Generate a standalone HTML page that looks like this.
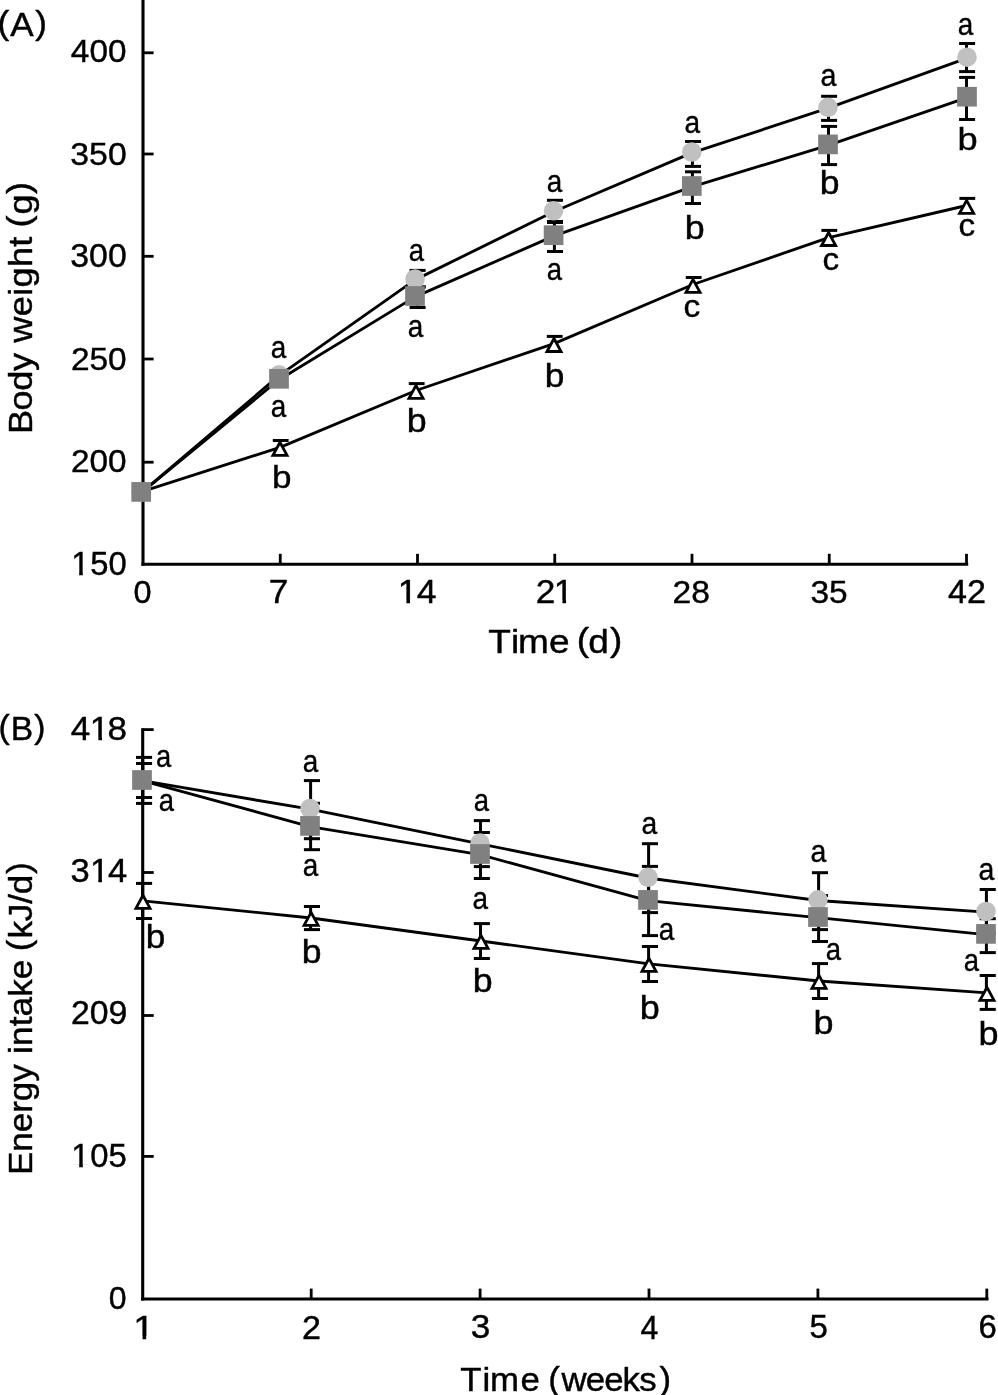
<!DOCTYPE html>
<html><head><meta charset="utf-8"><title>Figure</title>
<style>
html,body{margin:0;padding:0;background:#fff}
svg{display:block}
text{font-family:"Liberation Sans",Arial,Helvetica,sans-serif;fill:#000;stroke:#000;stroke-width:0.4px}
</style></head><body>
<svg width="998" height="1395" viewBox="0 0 998 1395">
<defs><clipPath id="nofoot"><polygon points="0,-30 11.2,-30 11.2,1 7.8,1 7.8,-2.8 0,-2.8"/></clipPath></defs>
<rect width="998" height="1395" fill="#fff"/>
<line x1="143.00" y1="0.00" x2="143.00" y2="565.75" stroke="#000" stroke-width="3.1" stroke-linecap="butt"/>
<line x1="141.45" y1="564.20" x2="968.20" y2="564.20" stroke="#000" stroke-width="3.1" stroke-linecap="butt"/>
<line x1="143.00" y1="52.80" x2="153.60" y2="52.80" stroke="#000" stroke-width="2.8" stroke-linecap="butt"/>
<text transform="matrix(1.0420 0 0 0.9894 70.85 62.48)" font-size="32" stroke-width="0.37">400</text>
<line x1="143.00" y1="154.00" x2="153.60" y2="154.00" stroke="#000" stroke-width="2.8" stroke-linecap="butt"/>
<text transform="matrix(1.0557 0 0 1.0027 70.33 164.58)" font-size="32" stroke-width="0.33">350</text>
<line x1="143.00" y1="256.30" x2="153.60" y2="256.30" stroke="#000" stroke-width="2.8" stroke-linecap="butt"/>
<text transform="matrix(1.0557 0 0 1.0115 70.33 267.28)" font-size="32" stroke-width="0.33">300</text>
<line x1="143.00" y1="359.00" x2="153.60" y2="359.00" stroke="#000" stroke-width="2.8" stroke-linecap="butt"/>
<text transform="matrix(1.0443 0 0 1.0027 70.93 369.78)" font-size="32" stroke-width="0.36">250</text>
<line x1="143.00" y1="462.20" x2="153.60" y2="462.20" stroke="#000" stroke-width="2.8" stroke-linecap="butt"/>
<text transform="matrix(1.0423 0 0 1.0027 70.93 471.78)" font-size="32" stroke-width="0.37">200</text>
<text transform="matrix(1.0238 0 0 1.0300 0 0)" x="69.65 88.26 106.04" y="558.06 558.06 558.06" font-size="32" stroke-width="0.42">150</text>
<rect x="72.95" y="572.00" width="6.22" height="5.00" fill="#fff"/>
<rect x="82.81" y="572.00" width="6.55" height="5.00" fill="#fff"/>
<line x1="280.25" y1="564.20" x2="280.25" y2="553.80" stroke="#000" stroke-width="2.8" stroke-linecap="butt"/>
<line x1="417.50" y1="564.20" x2="417.50" y2="553.80" stroke="#000" stroke-width="2.8" stroke-linecap="butt"/>
<line x1="554.75" y1="564.20" x2="554.75" y2="553.80" stroke="#000" stroke-width="2.8" stroke-linecap="butt"/>
<line x1="692.00" y1="564.20" x2="692.00" y2="553.80" stroke="#000" stroke-width="2.8" stroke-linecap="butt"/>
<line x1="829.25" y1="564.20" x2="829.25" y2="553.80" stroke="#000" stroke-width="2.8" stroke-linecap="butt"/>
<line x1="966.50" y1="564.20" x2="966.50" y2="553.80" stroke="#000" stroke-width="2.8" stroke-linecap="butt"/>
<text transform="matrix(1.0144 0 0 1.0027 133.60 602.58)" font-size="32" stroke-width="0.45">0</text>
<text transform="matrix(1.0981 0 0 1.0318 268.76 602.90)" font-size="32" stroke-width="0.21">7</text>
<text transform="matrix(1.1140 0 0 1.0350 0 0)" x="356.99 374.06" y="582.42 582.42" font-size="32" stroke-width="0.16">14</text>
<rect x="399.46" y="599.98" width="6.92" height="5.02" fill="#fff"/>
<rect x="410.04" y="599.98" width="7.13" height="5.02" fill="#fff"/>
<text transform="matrix(1.0998 0 0 1.0350 0 0)" x="487.08 503.62" y="582.42 582.42" font-size="32" stroke-width="0.20">21</text>
<rect x="555.64" y="599.98" width="6.81" height="5.02" fill="#fff"/>
<rect x="566.10" y="599.98" width="7.04" height="5.02" fill="#fff"/>
<text transform="matrix(1.0504 0 0 1.0027 672.52 602.58)" font-size="32" stroke-width="0.34">28</text>
<text transform="matrix(1.0472 0 0 1.0027 810.44 602.58)" font-size="32" stroke-width="0.35">35</text>
<text transform="matrix(1.0663 0 0 1.0170 948.03 602.90)" font-size="32" stroke-width="0.29">42</text>
<text transform="matrix(1.1564 0 0 1.0500 0 0)" x="422.29 441.92 447.93 474.71 492.51 498.78 508.75 527.40" y="621.52 621.52 621.52 621.52 621.52 620.29 621.62 620.29" font-size="32" stroke-width="0.05">Time (d)</text>
<text transform="rotate(-90) scale(1.1301,1.0400)" x="-384.10 -363.16 -345.73 -328.30 -312.30 -303.22 -279.76 -261.76 -254.44 -236.34 -218.32 -209.42 -201.31 -189.86 -171.72" y="30.67 30.67 30.67 30.67 30.67 30.67 30.67 30.67 30.67 30.67 30.67 30.67 29.23 30.67 29.23" font-size="32" stroke-width="0.12">Body weight (g)</text>
<text transform="matrix(1.0991 0 0 1.0600 0 0)" x="-2.24 9.38 32.18" y="32.36 33.58 32.36" font-size="32" stroke-width="0.20">(A)</text>
<polyline points="141.20,492.90 279.00,375.70 415.00,279.90 553.60,211.70 691.80,152.90 828.00,108.20 967.00,58.10" fill="none" stroke="#000" stroke-width="2.85" stroke-linejoin="round"/>
<polyline points="141.20,492.80 279.00,379.70 415.00,296.90 553.60,236.10 691.80,186.90 828.00,145.30 967.00,97.60" fill="none" stroke="#000" stroke-width="2.85" stroke-linejoin="round"/>
<polyline points="141.20,491.90 280.00,447.40 416.00,390.50 554.00,343.60 693.00,284.50 828.60,237.60 966.60,205.50" fill="none" stroke="#000" stroke-width="2.85" stroke-linejoin="round"/>
<line x1="417.00" y1="270.40" x2="417.00" y2="287.00" stroke="#000" stroke-width="3.0" stroke-linecap="butt"/>
<line x1="409.60" y1="270.40" x2="425.60" y2="270.40" stroke="#000" stroke-width="3.0" stroke-linecap="butt"/>
<line x1="409.60" y1="287.00" x2="425.60" y2="287.00" stroke="#000" stroke-width="3.0" stroke-linecap="butt"/>
<line x1="554.40" y1="200.30" x2="554.40" y2="221.50" stroke="#000" stroke-width="3.0" stroke-linecap="butt"/>
<line x1="547.00" y1="200.30" x2="563.00" y2="200.30" stroke="#000" stroke-width="3.0" stroke-linecap="butt"/>
<line x1="547.00" y1="221.50" x2="563.00" y2="221.50" stroke="#000" stroke-width="3.0" stroke-linecap="butt"/>
<line x1="692.40" y1="141.50" x2="692.40" y2="166.40" stroke="#000" stroke-width="3.0" stroke-linecap="butt"/>
<line x1="685.00" y1="141.50" x2="701.00" y2="141.50" stroke="#000" stroke-width="3.0" stroke-linecap="butt"/>
<line x1="685.00" y1="166.40" x2="701.00" y2="166.40" stroke="#000" stroke-width="3.0" stroke-linecap="butt"/>
<line x1="828.50" y1="96.30" x2="828.50" y2="120.40" stroke="#000" stroke-width="3.0" stroke-linecap="butt"/>
<line x1="821.10" y1="96.30" x2="837.10" y2="96.30" stroke="#000" stroke-width="3.0" stroke-linecap="butt"/>
<line x1="821.10" y1="120.40" x2="837.10" y2="120.40" stroke="#000" stroke-width="3.0" stroke-linecap="butt"/>
<line x1="966.50" y1="43.50" x2="966.50" y2="71.60" stroke="#000" stroke-width="3.0" stroke-linecap="butt"/>
<line x1="959.10" y1="43.50" x2="975.10" y2="43.50" stroke="#000" stroke-width="3.0" stroke-linecap="butt"/>
<line x1="959.10" y1="71.60" x2="975.10" y2="71.60" stroke="#000" stroke-width="3.0" stroke-linecap="butt"/>
<line x1="417.00" y1="287.00" x2="417.00" y2="307.50" stroke="#000" stroke-width="3.0" stroke-linecap="butt"/>
<line x1="409.60" y1="287.00" x2="425.60" y2="287.00" stroke="#000" stroke-width="3.0" stroke-linecap="butt"/>
<line x1="409.60" y1="307.50" x2="425.60" y2="307.50" stroke="#000" stroke-width="3.0" stroke-linecap="butt"/>
<line x1="554.40" y1="222.50" x2="554.40" y2="251.50" stroke="#000" stroke-width="3.0" stroke-linecap="butt"/>
<line x1="547.00" y1="222.50" x2="563.00" y2="222.50" stroke="#000" stroke-width="3.0" stroke-linecap="butt"/>
<line x1="547.00" y1="251.50" x2="563.00" y2="251.50" stroke="#000" stroke-width="3.0" stroke-linecap="butt"/>
<line x1="692.40" y1="171.80" x2="692.40" y2="203.50" stroke="#000" stroke-width="3.0" stroke-linecap="butt"/>
<line x1="685.00" y1="171.80" x2="701.00" y2="171.80" stroke="#000" stroke-width="3.0" stroke-linecap="butt"/>
<line x1="685.00" y1="203.50" x2="701.00" y2="203.50" stroke="#000" stroke-width="3.0" stroke-linecap="butt"/>
<line x1="828.50" y1="126.40" x2="828.50" y2="164.60" stroke="#000" stroke-width="3.0" stroke-linecap="butt"/>
<line x1="821.10" y1="126.40" x2="837.10" y2="126.40" stroke="#000" stroke-width="3.0" stroke-linecap="butt"/>
<line x1="821.10" y1="164.60" x2="837.10" y2="164.60" stroke="#000" stroke-width="3.0" stroke-linecap="butt"/>
<line x1="966.50" y1="77.40" x2="966.50" y2="119.50" stroke="#000" stroke-width="3.0" stroke-linecap="butt"/>
<line x1="959.10" y1="77.40" x2="975.10" y2="77.40" stroke="#000" stroke-width="3.0" stroke-linecap="butt"/>
<line x1="959.10" y1="119.50" x2="975.10" y2="119.50" stroke="#000" stroke-width="3.0" stroke-linecap="butt"/>
<line x1="272.80" y1="440.50" x2="288.60" y2="440.50" stroke="#000" stroke-width="3.0" stroke-linecap="butt"/>
<line x1="408.80" y1="383.60" x2="424.60" y2="383.60" stroke="#000" stroke-width="3.0" stroke-linecap="butt"/>
<line x1="546.80" y1="336.40" x2="562.60" y2="336.40" stroke="#000" stroke-width="3.0" stroke-linecap="butt"/>
<line x1="685.80" y1="277.50" x2="701.60" y2="277.50" stroke="#000" stroke-width="3.0" stroke-linecap="butt"/>
<line x1="821.40" y1="230.40" x2="837.20" y2="230.40" stroke="#000" stroke-width="3.0" stroke-linecap="butt"/>
<line x1="959.40" y1="198.40" x2="975.20" y2="198.40" stroke="#000" stroke-width="3.0" stroke-linecap="butt"/>
<circle cx="141.20" cy="492.00" r="9.75" fill="#c0c0c0"/>
<circle cx="279.00" cy="374.80" r="9.75" fill="#c0c0c0"/>
<circle cx="415.00" cy="279.00" r="9.75" fill="#c0c0c0"/>
<circle cx="553.60" cy="210.80" r="9.75" fill="#c0c0c0"/>
<circle cx="691.80" cy="152.00" r="9.75" fill="#c0c0c0"/>
<circle cx="828.00" cy="107.30" r="9.75" fill="#c0c0c0"/>
<circle cx="967.00" cy="57.20" r="9.75" fill="#c0c0c0"/>
<rect x="131.35" y="482.05" width="19.7" height="19.7" fill="#808080"/>
<rect x="269.15" y="368.95" width="19.7" height="19.7" fill="#808080"/>
<rect x="405.15" y="286.15" width="19.7" height="19.7" fill="#808080"/>
<rect x="543.75" y="225.35" width="19.7" height="19.7" fill="#808080"/>
<rect x="681.95" y="176.15" width="19.7" height="19.7" fill="#808080"/>
<rect x="818.15" y="134.55" width="19.7" height="19.7" fill="#808080"/>
<rect x="957.15" y="86.85" width="19.7" height="19.7" fill="#808080"/>
<polygon points="280.00,442.30 287.05,455.30 272.95,455.30" fill="#fff" stroke="#000" stroke-width="2.8" stroke-linejoin="miter"/>
<polygon points="416.00,385.40 423.05,398.40 408.95,398.40" fill="#fff" stroke="#000" stroke-width="2.8" stroke-linejoin="miter"/>
<polygon points="554.00,338.50 561.05,351.50 546.95,351.50" fill="#fff" stroke="#000" stroke-width="2.8" stroke-linejoin="miter"/>
<polygon points="693.00,279.40 700.05,292.40 685.95,292.40" fill="#fff" stroke="#000" stroke-width="2.8" stroke-linejoin="miter"/>
<polygon points="828.60,232.50 835.65,245.50 821.55,245.50" fill="#fff" stroke="#000" stroke-width="2.8" stroke-linejoin="miter"/>
<polygon points="966.60,200.40 973.65,213.40 959.55,213.40" fill="#fff" stroke="#000" stroke-width="2.8" stroke-linejoin="miter"/>
<text transform="matrix(0.8720 0 0 0.9703 270.71 358.29)" font-size="32" stroke-width="0.90">a</text>
<text transform="matrix(0.8720 0 0 0.9646 270.71 416.59)" font-size="32" stroke-width="0.90">a</text>
<text transform="matrix(1.0972 0 0 0.9991 271.92 487.58)" font-size="32" stroke-width="0.21">b</text>
<text transform="matrix(0.8598 0 0 0.9646 408.83 260.59)" font-size="32" stroke-width="0.90">a</text>
<text transform="matrix(0.8720 0 0 0.9817 407.71 336.79)" font-size="32" stroke-width="0.90">a</text>
<text transform="matrix(1.1181 0 0 1.0119 406.77 431.68)" font-size="32" stroke-width="0.15">b</text>
<text transform="matrix(0.8720 0 0 0.9760 546.81 191.69)" font-size="32" stroke-width="0.90">a</text>
<text transform="matrix(0.8598 0 0 0.9646 546.83 279.59)" font-size="32" stroke-width="0.90">a</text>
<text transform="matrix(1.1042 0 0 1.0247 544.70 386.67)" font-size="32" stroke-width="0.19">b</text>
<text transform="matrix(0.8780 0 0 0.9703 684.61 132.79)" font-size="32" stroke-width="0.90">a</text>
<text transform="matrix(1.1181 0 0 1.0247 684.67 238.67)" font-size="32" stroke-width="0.15">b</text>
<text transform="matrix(1.0465 0 0 0.9703 683.48 316.79)" font-size="32" stroke-width="0.35">c</text>
<text transform="matrix(0.8963 0 0 0.9646 820.58 86.49)" font-size="32" stroke-width="0.88">a</text>
<text transform="matrix(1.1111 0 0 1.0162 819.79 193.57)" font-size="32" stroke-width="0.17">b</text>
<text transform="matrix(1.0392 0 0 0.9760 822.39 269.89)" font-size="32" stroke-width="0.38">c</text>
<text transform="matrix(0.8720 0 0 0.9532 957.71 35.29)" font-size="32" stroke-width="0.90">a</text>
<text transform="matrix(1.1319 0 0 0.9949 957.45 150.08)" font-size="32" stroke-width="0.12">b</text>
<text transform="matrix(1.0392 0 0 0.9817 958.39 235.79)" font-size="32" stroke-width="0.38">c</text>
<line x1="142.70" y1="728.20" x2="142.70" y2="1300.55" stroke="#000" stroke-width="3.1" stroke-linecap="butt"/>
<line x1="141.15" y1="1299.00" x2="988.50" y2="1299.00" stroke="#000" stroke-width="3.1" stroke-linecap="butt"/>
<line x1="142.70" y1="729.60" x2="153.70" y2="729.60" stroke="#000" stroke-width="2.8" stroke-linecap="butt"/>
<text transform="matrix(1.0946 0 0 1.0300 0 0)" x="64.69 82.05 98.14" y="718.25 718.25 718.25" font-size="32" stroke-width="0.21">418</text>
<rect x="91.57" y="737.00" width="6.77" height="5.00" fill="#fff"/>
<rect x="101.99" y="737.00" width="7.01" height="5.00" fill="#fff"/>
<line x1="142.70" y1="872.50" x2="153.70" y2="872.50" stroke="#000" stroke-width="2.8" stroke-linecap="butt"/>
<text transform="matrix(1.0800 0 0 1.0300 0 0)" x="65.18 83.26 100.00" y="856.12 856.12 856.12" font-size="32" stroke-width="0.26">314</text>
<rect x="91.64" y="879.00" width="6.66" height="5.00" fill="#fff"/>
<rect x="101.95" y="879.00" width="6.91" height="5.00" fill="#fff"/>
<line x1="142.70" y1="1015.50" x2="153.70" y2="1015.50" stroke="#000" stroke-width="2.8" stroke-linecap="butt"/>
<text transform="matrix(1.0552 0 0 1.0115 70.91 1023.78)" font-size="32" stroke-width="0.33">209</text>
<line x1="142.70" y1="1156.40" x2="153.70" y2="1156.40" stroke="#000" stroke-width="2.8" stroke-linecap="butt"/>
<text transform="matrix(1.0264 0 0 1.0300 0 0)" x="69.45 87.97 105.74" y="1132.91 1132.91 1132.91" font-size="32" stroke-width="0.42">105</text>
<rect x="72.93" y="1164.10" width="6.24" height="5.00" fill="#fff"/>
<rect x="82.82" y="1164.10" width="6.57" height="5.00" fill="#fff"/>
<text transform="matrix(1.0013 0 0 1.0027 108.72 1308.58)" font-size="32" stroke-width="0.50">0</text>
<line x1="311.20" y1="1299.00" x2="311.20" y2="1288.60" stroke="#000" stroke-width="2.8" stroke-linecap="butt"/>
<line x1="480.10" y1="1299.00" x2="480.10" y2="1288.60" stroke="#000" stroke-width="2.8" stroke-linecap="butt"/>
<line x1="649.00" y1="1299.00" x2="649.00" y2="1288.60" stroke="#000" stroke-width="2.8" stroke-linecap="butt"/>
<line x1="817.90" y1="1299.00" x2="817.90" y2="1288.60" stroke="#000" stroke-width="2.8" stroke-linecap="butt"/>
<line x1="986.80" y1="1299.00" x2="986.80" y2="1288.60" stroke="#000" stroke-width="2.8" stroke-linecap="butt"/>
<text transform="matrix(1.1847 0 0 1.0350 0 0)" x="112.40" y="1293.43" font-size="32" stroke-width="0.00">1</text>
<rect x="135.06" y="1335.88" width="7.47" height="5.02" fill="#fff"/>
<rect x="146.20" y="1335.88" width="7.58" height="5.02" fill="#fff"/>
<text transform="matrix(1.0646 0 0 1.0260 302.00 1338.80)" font-size="32" stroke-width="0.30">2</text>
<text transform="matrix(1.0987 0 0 1.0115 470.78 1338.48)" font-size="32" stroke-width="0.20">3</text>
<text transform="matrix(1.0025 0 0 1.0409 640.48 1338.80)" font-size="32" stroke-width="0.49">4</text>
<text transform="matrix(1.0329 0 0 1.0260 809.48 1338.47)" font-size="32" stroke-width="0.39">5</text>
<text transform="matrix(1.0270 0 0 1.0115 978.46 1338.48)" font-size="32" stroke-width="0.41">6</text>
<text transform="matrix(1.0874 0 0 1.0500 0 0)" x="423.32 443.69 450.58 478.60 496.39 504.10 516.47 538.64 555.61 572.57 587.88 606.51" y="1324.76 1324.76 1324.76 1324.76 1324.76 1323.52 1324.86 1324.86 1324.86 1324.86 1324.86 1323.52" font-size="32" stroke-width="0.23">Time (weeks)</text>
<text transform="rotate(-90) scale(1.0947,1.0400)" x="-1073.32 -1052.02 -1034.27 -1016.51 -1005.89 -988.14 -972.14 -962.72 -955.50 -937.58 -928.56 -910.61 -894.47 -876.67 -868.89 -857.38 -841.50 -825.62 -816.85 -798.34" y="30.67 30.67 30.67 30.67 30.67 30.67 30.67 30.67 30.67 30.67 30.67 30.67 30.67 30.67 29.23 30.67 30.67 30.67 30.67 29.23" font-size="32" stroke-width="0.21">Energy intake (kJ/d)</text>
<text transform="matrix(1.0505 0 0 1.0400 0 0)" x="-1.39 10.31 32.73" y="710.00 711.35 710.00" font-size="32" stroke-width="0.34">(B)</text>
<polyline points="142.00,780.70 310.00,809.20 480.00,843.80 648.00,878.00 818.00,900.50 986.00,912.10" fill="none" stroke="#000" stroke-width="2.85" stroke-linejoin="round"/>
<polyline points="142.00,780.70 310.00,826.60 480.00,854.70 648.00,900.60 818.00,917.70 986.00,934.60" fill="none" stroke="#000" stroke-width="2.85" stroke-linejoin="round"/>
<polyline points="143.00,900.90 311.10,918.00 481.00,941.00 649.00,963.90 819.00,981.00 987.00,992.90" fill="none" stroke="#000" stroke-width="2.85" stroke-linejoin="round"/>
<line x1="142.70" y1="757.40" x2="142.70" y2="803.40" stroke="#000" stroke-width="3.0" stroke-linecap="butt"/>
<line x1="136.00" y1="757.40" x2="152.10" y2="757.40" stroke="#000" stroke-width="3.0" stroke-linecap="butt"/>
<line x1="136.00" y1="803.40" x2="152.10" y2="803.40" stroke="#000" stroke-width="3.0" stroke-linecap="butt"/>
<line x1="310.60" y1="780.60" x2="310.60" y2="838.70" stroke="#000" stroke-width="3.0" stroke-linecap="butt"/>
<line x1="303.90" y1="780.60" x2="320.00" y2="780.60" stroke="#000" stroke-width="3.0" stroke-linecap="butt"/>
<line x1="303.90" y1="838.70" x2="320.00" y2="838.70" stroke="#000" stroke-width="3.0" stroke-linecap="butt"/>
<line x1="480.50" y1="820.60" x2="480.50" y2="866.60" stroke="#000" stroke-width="3.0" stroke-linecap="butt"/>
<line x1="473.80" y1="820.60" x2="489.90" y2="820.60" stroke="#000" stroke-width="3.0" stroke-linecap="butt"/>
<line x1="473.80" y1="866.60" x2="489.90" y2="866.60" stroke="#000" stroke-width="3.0" stroke-linecap="butt"/>
<line x1="648.60" y1="843.70" x2="648.60" y2="912.60" stroke="#000" stroke-width="3.0" stroke-linecap="butt"/>
<line x1="641.90" y1="843.70" x2="658.00" y2="843.70" stroke="#000" stroke-width="3.0" stroke-linecap="butt"/>
<line x1="641.90" y1="912.60" x2="658.00" y2="912.60" stroke="#000" stroke-width="3.0" stroke-linecap="butt"/>
<line x1="818.60" y1="872.70" x2="818.60" y2="929.60" stroke="#000" stroke-width="3.0" stroke-linecap="butt"/>
<line x1="811.90" y1="872.70" x2="828.00" y2="872.70" stroke="#000" stroke-width="3.0" stroke-linecap="butt"/>
<line x1="811.90" y1="929.60" x2="828.00" y2="929.60" stroke="#000" stroke-width="3.0" stroke-linecap="butt"/>
<line x1="986.40" y1="889.50" x2="986.40" y2="933.00" stroke="#000" stroke-width="3.0" stroke-linecap="butt"/>
<line x1="979.70" y1="889.50" x2="995.80" y2="889.50" stroke="#000" stroke-width="3.0" stroke-linecap="butt"/>
<line x1="979.70" y1="933.00" x2="995.80" y2="933.00" stroke="#000" stroke-width="3.0" stroke-linecap="butt"/>
<line x1="142.70" y1="763.50" x2="142.70" y2="797.50" stroke="#000" stroke-width="3.0" stroke-linecap="butt"/>
<line x1="136.00" y1="763.50" x2="152.10" y2="763.50" stroke="#000" stroke-width="3.0" stroke-linecap="butt"/>
<line x1="136.00" y1="797.50" x2="152.10" y2="797.50" stroke="#000" stroke-width="3.0" stroke-linecap="butt"/>
<line x1="310.60" y1="803.30" x2="310.60" y2="849.70" stroke="#000" stroke-width="3.0" stroke-linecap="butt"/>
<line x1="303.90" y1="803.30" x2="320.00" y2="803.30" stroke="#000" stroke-width="3.0" stroke-linecap="butt"/>
<line x1="303.90" y1="849.70" x2="320.00" y2="849.70" stroke="#000" stroke-width="3.0" stroke-linecap="butt"/>
<line x1="480.50" y1="832.50" x2="480.50" y2="878.50" stroke="#000" stroke-width="3.0" stroke-linecap="butt"/>
<line x1="473.80" y1="832.50" x2="489.90" y2="832.50" stroke="#000" stroke-width="3.0" stroke-linecap="butt"/>
<line x1="473.80" y1="878.50" x2="489.90" y2="878.50" stroke="#000" stroke-width="3.0" stroke-linecap="butt"/>
<line x1="648.60" y1="866.40" x2="648.60" y2="935.60" stroke="#000" stroke-width="3.0" stroke-linecap="butt"/>
<line x1="641.90" y1="866.40" x2="658.00" y2="866.40" stroke="#000" stroke-width="3.0" stroke-linecap="butt"/>
<line x1="641.90" y1="935.60" x2="658.00" y2="935.60" stroke="#000" stroke-width="3.0" stroke-linecap="butt"/>
<line x1="818.60" y1="895.50" x2="818.60" y2="941.50" stroke="#000" stroke-width="3.0" stroke-linecap="butt"/>
<line x1="811.90" y1="895.50" x2="828.00" y2="895.50" stroke="#000" stroke-width="3.0" stroke-linecap="butt"/>
<line x1="811.90" y1="941.50" x2="828.00" y2="941.50" stroke="#000" stroke-width="3.0" stroke-linecap="butt"/>
<line x1="986.40" y1="918.70" x2="986.40" y2="952.60" stroke="#000" stroke-width="3.0" stroke-linecap="butt"/>
<line x1="979.70" y1="918.70" x2="995.80" y2="918.70" stroke="#000" stroke-width="3.0" stroke-linecap="butt"/>
<line x1="979.70" y1="952.60" x2="995.80" y2="952.60" stroke="#000" stroke-width="3.0" stroke-linecap="butt"/>
<line x1="142.70" y1="883.40" x2="142.70" y2="918.50" stroke="#000" stroke-width="3.0" stroke-linecap="butt"/>
<line x1="136.00" y1="883.40" x2="152.10" y2="883.40" stroke="#000" stroke-width="3.0" stroke-linecap="butt"/>
<line x1="136.00" y1="918.50" x2="152.10" y2="918.50" stroke="#000" stroke-width="3.0" stroke-linecap="butt"/>
<line x1="310.60" y1="906.50" x2="310.60" y2="929.60" stroke="#000" stroke-width="3.0" stroke-linecap="butt"/>
<line x1="303.90" y1="906.50" x2="320.00" y2="906.50" stroke="#000" stroke-width="3.0" stroke-linecap="butt"/>
<line x1="303.90" y1="929.60" x2="320.00" y2="929.60" stroke="#000" stroke-width="3.0" stroke-linecap="butt"/>
<line x1="480.50" y1="923.60" x2="480.50" y2="958.50" stroke="#000" stroke-width="3.0" stroke-linecap="butt"/>
<line x1="473.80" y1="923.60" x2="489.90" y2="923.60" stroke="#000" stroke-width="3.0" stroke-linecap="butt"/>
<line x1="473.80" y1="958.50" x2="489.90" y2="958.50" stroke="#000" stroke-width="3.0" stroke-linecap="butt"/>
<line x1="648.60" y1="946.50" x2="648.60" y2="981.50" stroke="#000" stroke-width="3.0" stroke-linecap="butt"/>
<line x1="641.90" y1="946.50" x2="658.00" y2="946.50" stroke="#000" stroke-width="3.0" stroke-linecap="butt"/>
<line x1="641.90" y1="981.50" x2="658.00" y2="981.50" stroke="#000" stroke-width="3.0" stroke-linecap="butt"/>
<line x1="818.60" y1="963.60" x2="818.60" y2="998.50" stroke="#000" stroke-width="3.0" stroke-linecap="butt"/>
<line x1="811.90" y1="963.60" x2="828.00" y2="963.60" stroke="#000" stroke-width="3.0" stroke-linecap="butt"/>
<line x1="811.90" y1="998.50" x2="828.00" y2="998.50" stroke="#000" stroke-width="3.0" stroke-linecap="butt"/>
<line x1="986.40" y1="975.50" x2="986.40" y2="1009.40" stroke="#000" stroke-width="3.0" stroke-linecap="butt"/>
<line x1="979.70" y1="975.50" x2="995.80" y2="975.50" stroke="#000" stroke-width="3.0" stroke-linecap="butt"/>
<line x1="979.70" y1="1009.40" x2="995.80" y2="1009.40" stroke="#000" stroke-width="3.0" stroke-linecap="butt"/>
<circle cx="142.00" cy="780.00" r="9.75" fill="#c0c0c0"/>
<circle cx="310.00" cy="808.50" r="9.75" fill="#c0c0c0"/>
<circle cx="480.00" cy="843.10" r="9.75" fill="#c0c0c0"/>
<circle cx="648.00" cy="877.30" r="9.75" fill="#c0c0c0"/>
<circle cx="818.00" cy="899.80" r="9.75" fill="#c0c0c0"/>
<circle cx="986.00" cy="911.40" r="9.75" fill="#c0c0c0"/>
<rect x="132.15" y="770.15" width="19.7" height="19.7" fill="#808080"/>
<rect x="300.15" y="816.05" width="19.7" height="19.7" fill="#808080"/>
<rect x="470.15" y="844.15" width="19.7" height="19.7" fill="#808080"/>
<rect x="638.15" y="890.05" width="19.7" height="19.7" fill="#808080"/>
<rect x="808.15" y="907.15" width="19.7" height="19.7" fill="#808080"/>
<rect x="976.15" y="924.05" width="19.7" height="19.7" fill="#808080"/>
<polygon points="143.00,895.30 150.05,908.30 135.95,908.30" fill="#fff" stroke="#000" stroke-width="2.8" stroke-linejoin="miter"/>
<polygon points="311.10,912.40 318.15,925.40 304.05,925.40" fill="#fff" stroke="#000" stroke-width="2.8" stroke-linejoin="miter"/>
<polygon points="481.00,935.40 488.05,948.40 473.95,948.40" fill="#fff" stroke="#000" stroke-width="2.8" stroke-linejoin="miter"/>
<polygon points="649.00,958.30 656.05,971.30 641.95,971.30" fill="#fff" stroke="#000" stroke-width="2.8" stroke-linejoin="miter"/>
<polygon points="819.00,975.40 826.05,988.40 811.95,988.40" fill="#fff" stroke="#000" stroke-width="2.8" stroke-linejoin="miter"/>
<polygon points="987.00,987.30 994.05,1000.30 979.95,1000.30" fill="#fff" stroke="#000" stroke-width="2.8" stroke-linejoin="miter"/>
<text transform="matrix(0.8537 0 0 0.9646 155.94 766.59)" font-size="32" stroke-width="0.90">a</text>
<text transform="matrix(0.8598 0 0 0.9703 158.73 810.69)" font-size="32" stroke-width="0.90">a</text>
<text transform="matrix(1.0972 0 0 1.0119 145.82 947.58)" font-size="32" stroke-width="0.21">b</text>
<text transform="matrix(0.8720 0 0 0.9817 302.71 771.79)" font-size="32" stroke-width="0.90">a</text>
<text transform="matrix(0.8720 0 0 0.9874 302.71 875.98)" font-size="32" stroke-width="0.90">a</text>
<text transform="matrix(1.1111 0 0 1.0162 301.79 962.67)" font-size="32" stroke-width="0.17">b</text>
<text transform="matrix(0.8598 0 0 0.9703 473.83 810.69)" font-size="32" stroke-width="0.90">a</text>
<text transform="matrix(0.8720 0 0 0.9817 472.61 908.69)" font-size="32" stroke-width="0.90">a</text>
<text transform="matrix(1.1181 0 0 1.0289 472.67 991.77)" font-size="32" stroke-width="0.15">b</text>
<text transform="matrix(0.8841 0 0 0.9760 641.40 833.79)" font-size="32" stroke-width="0.90">a</text>
<text transform="matrix(0.8720 0 0 0.9760 658.81 939.69)" font-size="32" stroke-width="0.90">a</text>
<text transform="matrix(1.1250 0 0 1.0332 639.66 1018.77)" font-size="32" stroke-width="0.13">b</text>
<text transform="matrix(0.8902 0 0 0.9874 810.49 861.88)" font-size="32" stroke-width="0.90">a</text>
<text transform="matrix(0.8598 0 0 0.9646 825.83 959.69)" font-size="32" stroke-width="0.90">a</text>
<text transform="matrix(1.1250 0 0 1.0247 813.56 1033.67)" font-size="32" stroke-width="0.13">b</text>
<text transform="matrix(0.8902 0 0 0.9646 978.49 879.69)" font-size="32" stroke-width="0.90">a</text>
<text transform="matrix(0.8598 0 0 0.9703 963.73 970.69)" font-size="32" stroke-width="0.90">a</text>
<text transform="matrix(1.1250 0 0 1.0162 978.46 1044.67)" font-size="32" stroke-width="0.13">b</text>
</svg>
</body></html>
